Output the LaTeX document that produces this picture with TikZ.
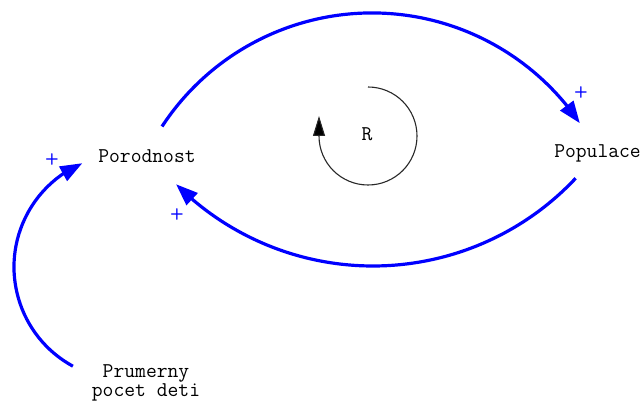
\documentclass[tikz,border=0pt]{standalone}
\usetikzlibrary{arrows.meta,bending}
\definecolor{linkblue}{RGB}{0,0,255}
\definecolor{loopgray}{RGB}{40,40,40}
\tikzset{
  label/.style={font=\fontsize{21}{19}\selectfont\ttfamily, inner sep=0pt, text=black},
  polarity/.style={font=\fontsize{16}{16}\selectfont\sffamily\bfseries, text=linkblue, inner sep=0pt},
  link/.style={draw=linkblue, line width=3.2pt, -{Triangle[length=22pt,width=16pt,flex]}},
  loop/.style={draw=loopgray, line width=1.1pt, -{Triangle[length=20pt,width=12pt,fill=black]}}
}
\begin{document}
\begin{tikzpicture}[x=1pt,y=1pt]
\useasboundingbox (0,0) rectangle (644,401);
% variables
\node[label, anchor=base] (por) at (147,238) {Porodnost};
\node[label, anchor=base] (pop) at (597.5,243.7) {Populace};
\node[label, align=center] (pru) at (146,18) {Prumerny\\pocet deti};
\node[label, anchor=base] (r) at (367,260) {R};
% connector end points
\coordinate (a1s) at (162,274.5);
\coordinate (a2s) at (575.6,222.7);
\coordinate (a3s) at (72.9,34.8);
\coordinate (ls) at (368,314);
% links
\draw[link] (a1s) arc[start angle=146.8, end angle=34.1, radius=251pt];
\draw[link] (a2s) arc[start angle=-43.2, end angle=-135.1, radius=278pt];
\draw[link] (a3s) arc[start angle=241.4, end angle=113.3, radius=113pt];
% loop marker
\draw[loop] (ls) arc[start angle=90, end angle=-180, radius=49pt] -- ++(0,20);
% polarities
\node[polarity] (p1) at (581,308) {+};
\node[polarity] (p2) at (177,186) {+};
\node[polarity] (p3) at (52,241) {+};
\end{tikzpicture}
\end{document}
